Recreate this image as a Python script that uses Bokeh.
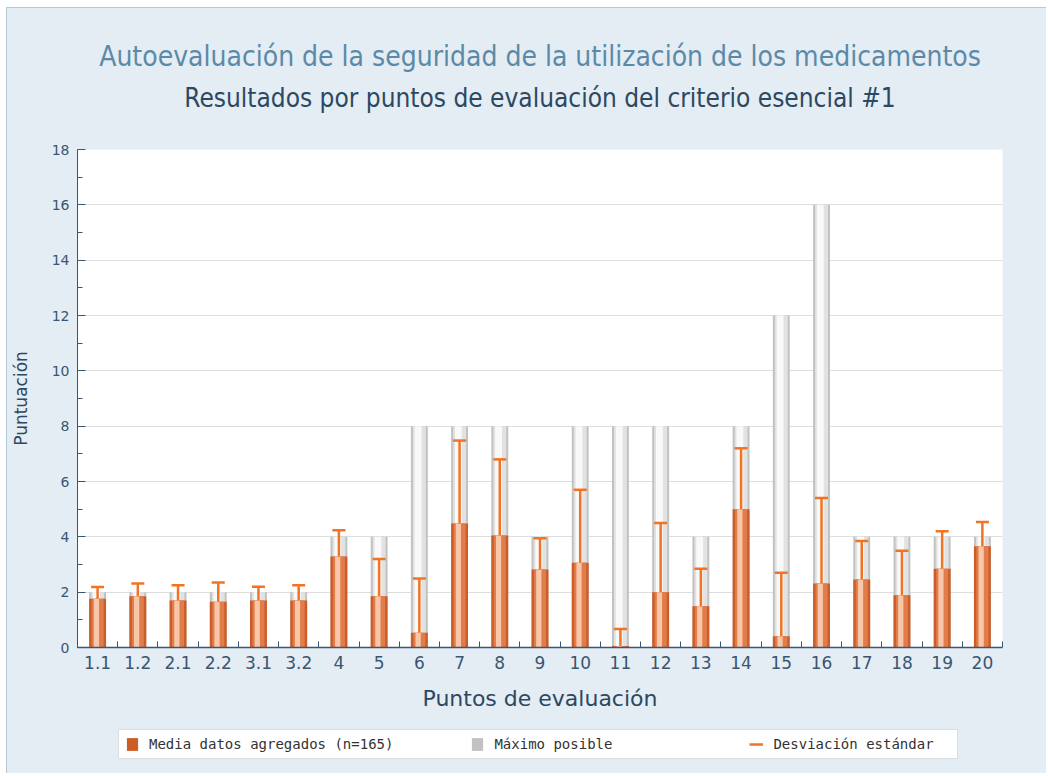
from bokeh.plotting import figure
from bokeh.layouts import column
from bokeh.models import (Range1d, FixedTicker, Title, Legend, LegendItem, ColumnDataSource)
from bokeh.transform import dodge
from bokeh.embed import file_html
from bokeh.resources import INLINE

# ---- data ----
puntos = ["1.1", "1.2", "2.1", "2.2", "3.1", "3.2", "4", "5", "6", "7", "8", "9",
          "10", "11", "12", "13", "14", "15", "16", "17", "18", "19", "20"]
media = [1.76, 1.85, 1.70, 1.65, 1.70, 1.70, 3.29, 1.85, 0.53, 4.48, 4.05, 2.82,
         3.06, 0.05, 2.00, 1.49, 5.00, 0.41, 2.31, 2.46, 1.89, 2.85, 3.66]
maximo = [2, 2, 2, 2, 2, 2, 4, 4, 8, 8, 8, 4, 8, 8, 8, 4, 8, 12, 16, 4, 4, 4, 4]
desviacion = [0.43, 0.46, 0.55, 0.70, 0.50, 0.55, 0.95, 1.35, 1.96, 3.00, 2.75, 1.13,
              2.64, 0.62, 2.50, 1.36, 2.20, 2.29, 3.09, 1.39, 1.61, 1.35, 0.88]
y_ticks = [0, 2, 4, 6, 8, 10, 12, 14, 16, 18]

titulo = "Autoevaluación de la seguridad de la utilización de los medicamentos"
subtitulo = "Resultados por puntos de evaluación del criterio esencial #1"
x_label = "Puntos de evaluación"
y_label = "Puntuación"
leg_media = "Media datos agregados (n=165)"
leg_max = "Máximo posible"
leg_sd = "Desviación estándar"

# ---- derived ----
n = len(puntos)
xs = [i + 0.5 for i in range(n)]
upper = [m + s for m, s in zip(media, desviacion)]
src = ColumnDataSource(dict(x=xs, media=media, maximo=maximo, upper=upper))

AXIS = "#3a5670"
BG = "#e4ecf4"
ORANGE = "#cc5c28"
GREY = "#c2c2c2"
SD = "#f07424"

p = figure(width=1039, height=711, output_backend="svg", toolbar_location=None,
           x_range=Range1d(0, n), y_range=Range1d(0, 18),
           min_border_left=69, min_border_right=44, min_border_top=141,
           min_border_bottom=72,
           background_fill_color="white", border_fill_color=BG,
           outline_line_color=None)

# titles (spacer first, closest to the frame)
p.add_layout(Title(text=" ", text_font_size="27px", standoff=0), "above")
p.add_layout(Title(text=subtitulo, align="center", text_font="DejaVu Sans Condensed",
                   text_font_size="26px", text_font_style="normal",
                   text_color="#2c4862"), "above")
p.add_layout(Title(text=titulo, align="center", text_font="DejaVu Sans Condensed",
                   text_font_size="28px", text_font_style="normal",
                   text_color="#5b8aa8", standoff=6), "above")

W = 0.42
# max possible (grey cylinder)
p.vbar(x="x", top="maximo", bottom=0, width=W, source=src,
       fill_color=GREY, line_color=None)
p.vbar(x="x", top="maximo", bottom=0, width=0.32, source=src,
       fill_color="#e2e2e2", line_color=None)
p.vbar(x=dodge("x", -0.03, range=p.x_range), top="maximo", bottom=0, width=0.17,
       source=src, fill_color="#f9f9f9", line_color=None)

# mean (orange cylinder)
p.vbar(x="x", top="media", bottom=0, width=W, source=src,
       fill_color=ORANGE, line_color=None)
p.vbar(x="x", top="media", bottom=0, width=0.30, source=src,
       fill_color="#e07d4a", line_color=None)
p.vbar(x=dodge("x", -0.03, range=p.x_range), top="media", bottom=0, width=0.13,
       source=src, fill_color="#f8c6a8", line_color=None)

# standard deviation (upper whisker)
p.segment(x0="x", y0="media", x1="x", y1="upper", source=src,
          line_color=SD, line_width=2.5)
p.scatter(x="x", y="upper", marker="dash", size=13, source=src,
          line_color=SD, line_width=2.5)

# grid
p.xgrid.grid_line_color = None
p.ygrid.grid_line_color = "#dedede"
p.ygrid.ticker = FixedTicker(ticks=y_ticks)

# y axis
ya = p.yaxis[0]
ya.ticker = FixedTicker(ticks=y_ticks, minor_ticks=list(range(0, 19)))
ya.axis_label = y_label
ya.axis_label_text_font = "DejaVu Sans"
ya.axis_label_text_font_size = "17px"
ya.axis_label_text_font_style = "normal"
ya.axis_label_text_color = "#2c4862"
ya.axis_label_standoff = 18
ya.major_label_text_font = "DejaVu Sans"
ya.major_label_text_font_size = "14px"
ya.major_label_text_color = AXIS
ya.major_label_standoff = 8
ya.axis_line_color = AXIS
ya.major_tick_line_color = AXIS
ya.minor_tick_line_color = AXIS
ya.major_tick_in = 8
ya.major_tick_out = 0
ya.minor_tick_in = 5
ya.minor_tick_out = 0

# x axis
xa = p.xaxis[0]
xa.ticker = FixedTicker(ticks=xs, minor_ticks=list(range(0, n + 1)))
xa.major_label_overrides = {x: lab for x, lab in zip(xs, puntos)}
xa.axis_label = x_label
xa.axis_label_text_font = "DejaVu Sans"
xa.axis_label_text_font_size = "22px"
xa.axis_label_text_font_style = "normal"
xa.axis_label_text_color = "#2c4862"
xa.axis_label_standoff = 14
xa.major_label_text_font = "DejaVu Sans"
xa.major_label_text_font_size = "17px"
xa.major_label_text_color = AXIS
xa.major_label_standoff = 8
xa.axis_line_color = AXIS
xa.axis_line_width = 1.5
xa.major_tick_in = 0
xa.major_tick_out = 0
xa.minor_tick_line_color = AXIS
xa.minor_tick_in = 6
xa.minor_tick_out = 0

# ---- legend strip (separate small figure under the chart) ----
lf = figure(width=1039, height=54, output_backend="svg", toolbar_location=None,
            x_axis_type=None, y_axis_type=None, x_range=Range1d(0, 1), y_range=Range1d(0, 1),
            min_border=0, min_border_left=69, min_border_right=44, min_border_top=0,
            min_border_bottom=0, background_fill_color=BG, border_fill_color=BG,
            outline_line_color=None)
lf.grid.visible = False
# legend-only renderers (their single sample lies outside the visible range)
legend_src = ColumnDataSource(dict(x=[-5], top=[0], y=[-5]))
r_media = lf.vbar(x="x", top="top", width=0.1, source=legend_src, fill_color=ORANGE, line_color=None)
r_max = lf.vbar(x="x", top="top", width=0.1, source=legend_src, fill_color=GREY, line_color=None)
r_sd = lf.line(x="x", y="y", source=legend_src, line_color=SD, line_width=2.5)

legend = Legend(items=[LegendItem(label=leg_media, renderers=[r_media]),
                       LegendItem(label=leg_max, renderers=[r_max]),
                       LegendItem(label=leg_sd, renderers=[r_sd])],
                orientation="horizontal", location=(41, 14),
                label_text_font="DejaVu Sans Mono", label_text_font_size="14px",
                label_text_color="#333333",
                glyph_width=14, glyph_height=16, label_standoff=10,
                spacing=77, label_width=178, padding=6, margin=0,
                border_line_color="#b4bec8", background_fill_color="white",
                background_fill_alpha=1.0)
lf.add_layout(legend, "center")

layout = column(p, lf, spacing=0, margin=(7, 0, 0, 6),
                styles={"background-color": BG,
                        "border-left": "1px solid #b6c9d7",
                        "border-top": "1px solid #b6c9d7"})
open("out.html", "w").write(file_html(layout, INLINE))
